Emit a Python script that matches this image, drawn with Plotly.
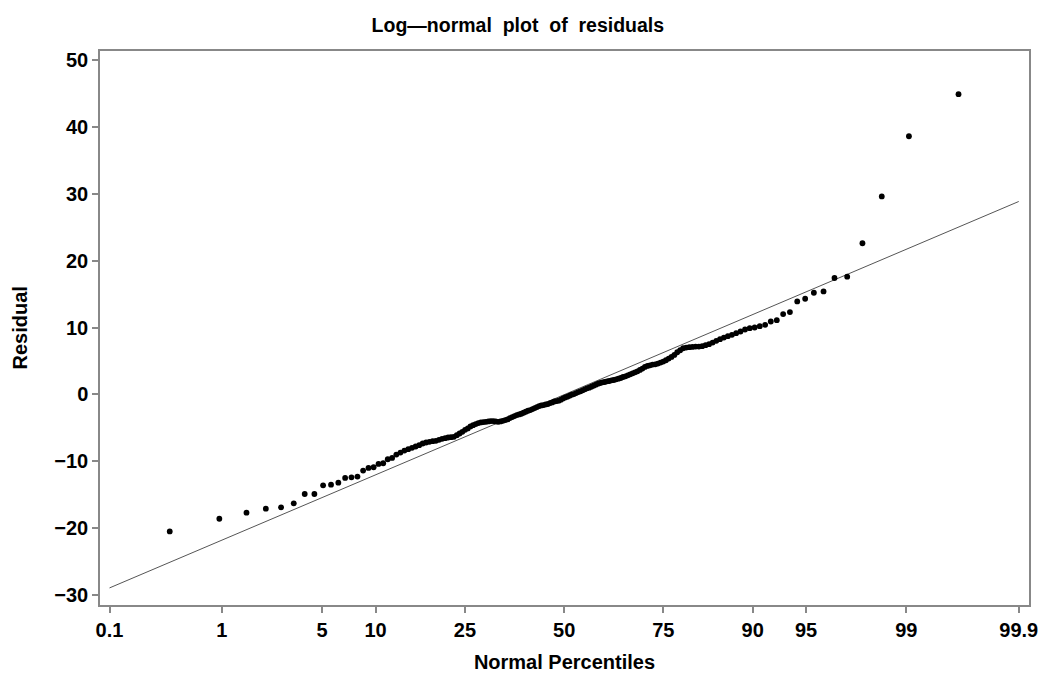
import plotly.graph_objects as go
from statistics import NormalDist

# ---- data (sorted residuals, n = 170) ----
residuals = [
    -20.5, -18.6, -17.7, -17.1, -16.9, -16.3, -14.9, -14.9, -13.6, -13.5,
    -13.2, -12.5, -12.4, -12.3, -11.4, -11.0, -10.9, -10.4, -10.3, -9.7,
    -9.5, -9.0, -8.7, -8.4, -8.2, -8.0, -7.8, -7.6, -7.35, -7.2,
    -7.1, -7.0, -6.95, -6.8, -6.65, -6.55, -6.45, -6.4, -6.35, -6.1,
    -5.85, -5.6, -5.3, -5.1, -4.8, -4.6, -4.45, -4.3, -4.2, -4.15,
    -4.1, -4.05, -4.0, -4.0, -4.05, -4.1, -4.05, -3.95, -3.85, -3.75,
    -3.55, -3.4, -3.25, -3.1, -3.0, -2.9, -2.75, -2.6, -2.45, -2.35,
    -2.2, -2.05, -1.9, -1.75, -1.65, -1.6, -1.5, -1.45, -1.3, -1.2,
    -1.05, -1.0, -0.95, -0.8, -0.6, -0.45, -0.35, -0.2, -0.05, 0.05,
    0.2, 0.35, 0.45, 0.6, 0.75, 0.9, 1.0, 1.15, 1.3, 1.45,
    1.6, 1.7, 1.8, 1.85, 1.95, 2.0, 2.1, 2.15, 2.25, 2.35,
    2.45, 2.6, 2.7, 2.85, 3.0, 3.15, 3.3, 3.45, 3.65, 3.85,
    4.1, 4.25, 4.35, 4.45, 4.5, 4.6, 4.75, 4.9, 5.1, 5.35,
    5.6, 5.9, 6.3, 6.6, 6.9, 7.0, 7.05, 7.1, 7.15, 7.15,
    7.2, 7.35, 7.5, 7.75, 8.0, 8.25, 8.5, 8.7, 8.9, 9.15,
    9.4, 9.7, 9.9, 10.0, 10.2, 10.4, 10.9, 11.1, 12.0, 12.3,
    13.9, 14.3, 15.2, 15.4, 17.4, 17.6, 22.6, 29.6, 38.6, 44.9,
]

percentile_ticks = [0.1, 1, 5, 10, 25, 50, 75, 90, 95, 99, 99.9]
percentile_labels = ["0.1", "1", "5", "10", "25", "50", "75", "90", "95", "99", "99.9"]
y_ticks = [-30, -20, -10, 0, 10, 20, 30, 40, 50]
y_labels = ["\u221230", "\u221220", "\u221210", "0", "10", "20", "30", "40", "50"]

# reference normal line parameters
line_mu = -0.05
line_sigma = 9.35
line_pct = [0.1, 99.9]

# ---- normal-probability scale (Blom plotting positions) ----
nd = NormalDist()
n = len(residuals)
zq = [nd.inv_cdf((i + 1 - 0.375) / (n + 0.25)) for i in range(n)]
tick_z = [nd.inv_cdf(p / 100.0) for p in percentile_ticks]
line_z = [nd.inv_cdf(p / 100.0) for p in line_pct]
line_y = [line_mu + line_sigma * z for z in line_z]

FONT = "Liberation Sans, Arial, sans-serif"

fig = go.Figure()
fig.add_trace(go.Scatter(
    x=line_z, y=line_y, mode="lines",
    line=dict(color="#555555", width=1),
    hoverinfo="skip", showlegend=False,
))
fig.add_trace(go.Scatter(
    x=zq, y=residuals, mode="markers",
    marker=dict(color="black", size=5.8, line=dict(width=0)),
    showlegend=False,
))

fig.update_layout(
    width=1042, height=677,
    margin=dict(l=100, r=13, t=51, b=72, autoexpand=False),
    paper_bgcolor="white", plot_bgcolor="white",
    font=dict(family=FONT, color="black", size=17, weight="bold"),
    title=dict(
        text="Log\u2014normal  plot  of  residuals",
        x=0.497, xanchor="center", y=0.963, yanchor="middle",
        font=dict(family=FONT, size=19.5, color="black", weight="bold"),
    ),
    annotations=[dict(
        text="Residual", textangle=-90,
        xref="paper", yref="paper", x=-0.0866, y=0.5,
        xanchor="center", yanchor="middle", showarrow=False,
        font=dict(family=FONT, size=20, color="black", weight="bold"),
    )],
)

fig.update_xaxes(
    range=[-3.155, 3.16],
    tickmode="array", tickvals=tick_z, ticktext=percentile_labels,
    ticks="outside", ticklen=6, tickwidth=1.5, tickcolor="#888888",
    showline=True, linecolor="#888888", linewidth=1.5, mirror=True,
    showgrid=False, zeroline=False, automargin=False,
    tickfont=dict(family=FONT, size=20, color="black", weight="bold"),
    title=dict(text="Normal Percentiles",
               font=dict(family=FONT, size=20, color="black", weight="bold")),
)
fig.update_yaxes(
    range=[-31.5, 51.35],
    tickmode="array", tickvals=y_ticks, ticktext=y_labels,
    ticks="outside", ticklen=6, tickwidth=1.5, tickcolor="#888888",
    showline=True, linecolor="#888888", linewidth=1.5, mirror=True,
    showgrid=False, zeroline=False, automargin=False,
    tickfont=dict(family=FONT, size=20, color="black", weight="bold"),
)

fig.write_html("out.html")
